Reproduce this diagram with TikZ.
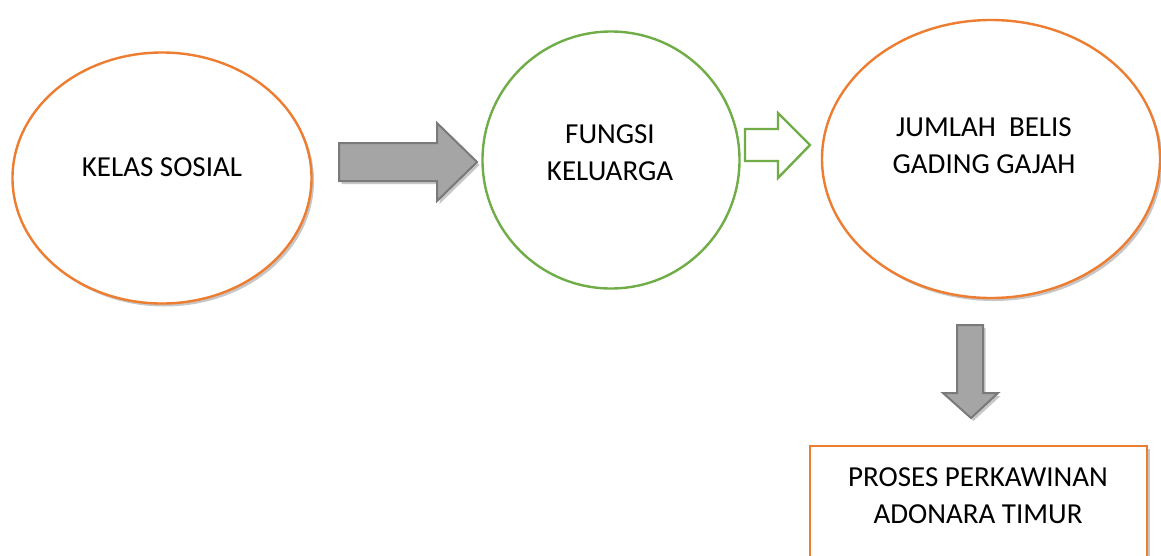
\documentclass[tikz,border=0pt]{standalone}
\usepackage{fontspec}
\setmainfont{Carlito}
\usetikzlibrary{shapes.geometric,shadows}
\definecolor{orng}{HTML}{ED7D31}
\definecolor{grn}{HTML}{70AD47}
\definecolor{gfill}{HTML}{A5A5A5}
\definecolor{gedge}{HTML}{7A7A7A}
\tikzset{
  shd/.style={drop shadow={shadow xshift=2.5pt,shadow yshift=-3pt,fill=black,opacity=0.22}},
  oval/.style={ellipse,draw=orng,line width=2.4pt,fill=white,inner sep=0pt,shd},
  ring/.style={circle,draw=grn,line width=2.4pt,fill=white,inner sep=0pt},
  lbl/.style={font=\fontsize{29}{37}\selectfont,align=center,text=black},
  grayarrow/.style={draw=gedge,fill=gfill,line width=2pt,line join=miter,shd},
  greenarrow/.style={draw=grn,fill=white,line width=2.4pt,line join=miter},
  boxst/.style={draw=orng,line width=2.4pt,fill=white,shd}
}
\begin{document}
\begin{tikzpicture}[x=1pt,y=-1pt]
\useasboundingbox (0,0) rectangle (1161,555);
\clip (0,0) rectangle (1161,555);
\fill[white] (0,0) rectangle (1161,555);
% nodes
\node[oval,minimum width=299pt,minimum height=251pt] (kelas) at (162,178) {};
\node[lbl] (kelast) at (162,167) {KELAS SOSIAL};
\node[ring,minimum size=257pt] (fungsi) at (611,160) {};
\node[lbl] (fungsit) at (610,153) {FUNGSI\\KELUARGA};
\node[oval,minimum width=338pt,minimum height=278pt] (jumlah) at (991,159) {};
\node[lbl] (jumlaht) at (984,146) {JUMLAH\ \ BELIS\\GADING GAJAH};
\draw[boxst] (810,446) rectangle (1147,580);
\coordinate (boxc) at (978,500);
\node[lbl] (prosest) at (978,496) {PROSES PERKAWINAN\\ADONARA TIMUR};
% block arrows
\draw[grayarrow] (339,143) -- (437,143) -- (437,123) -- (477,162) -- (437,201) -- (437,181) -- (339,181) -- cycle;
\draw[greenarrow] (745,129) -- (778,129) -- (778,113) -- (810,145) -- (778,178) -- (778,161) -- (745,161) -- cycle;
\draw[grayarrow] (957,325) -- (983,325) -- (983,393) -- (998,393) -- (971,418) -- (943,393) -- (957,393) -- cycle;
\end{tikzpicture}
\end{document}
